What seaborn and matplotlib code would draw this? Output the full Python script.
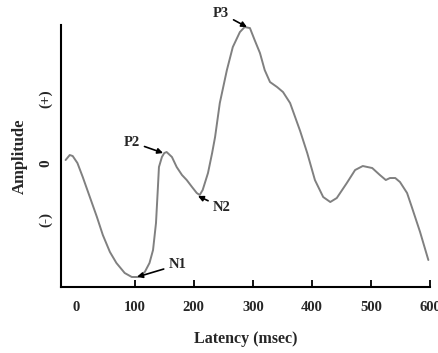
import numpy as np
import pandas as pd
import seaborn as sns
import matplotlib.pyplot as plt

# waveform (latency in msec, amplitude in arbitrary units)
latency = [-17, -10, -5, 3, 12, 24, 36, 46, 58, 69, 83, 95, 105, 117, 125, 131, 136,
           139, 141, 146, 150, 154, 163, 171, 180, 188, 197, 205, 210, 215, 224, 231,
           236, 244, 256, 266, 278, 286, 295, 303, 312, 320, 329, 341, 351, 363, 380,
           392, 405, 419, 431, 442, 459, 473, 486, 502, 515, 525, 532, 541, 549, 561,
           569, 583, 597]
amplitude = [0.3, 0.8, 0.7, 0.0, -1.4, -3.4, -5.4, -7.2, -8.9, -10.0, -11.0, -11.4,
             -11.4, -10.9, -10.0, -8.7, -6.0, -2.7, -0.4, 0.6, 1.0, 1.1, 0.6, -0.4,
             -1.2, -1.7, -2.4, -3.0, -3.2, -2.7, -1.0, 1.0, 2.6, 6.0, 9.3, 11.6, 13.1,
             13.6, 13.5, 12.3, 11.0, 9.3, 8.1, 7.6, 7.1, 6.0, 3.2, 1.0, -1.7, -3.4,
             -3.9, -3.5, -2.0, -0.7, -0.3, -0.5, -1.2, -1.7, -1.5, -1.5, -1.9, -3.0,
             -4.4, -6.9, -9.7]

x_ticks = [0, 100, 200, 300, 400, 500, 600]
y_ticks = [6.4, 0, -5.6]
y_tick_labels = ['(+)', '0', '(-)']

peaks = ['P3', 'P2', 'N2', 'N1']
peak_xy = [(290, 13.6), (148, 1.0), (207, -3.3), (104, -11.4)]
label_xy = [(246, 15.0), (95, 2.1), (247, -4.4), (172, -10.2)]

df = pd.DataFrame({'Latency': latency, 'Amplitude': amplitude})

sns.set_style('white')
plt.rcParams['font.family'] = ['Liberation Serif', 'DejaVu Serif']

fig = plt.figure(figsize=(4.38, 3.53), dpi=100)
ax = fig.add_axes([0.139, 0.187, 0.843, 0.742])
sns.lineplot(data=df, x='Latency', y='Amplitude', color='#808080', linewidth=1.4,
             ax=ax, sort=False, solid_joinstyle='round', solid_capstyle='round')

ax.set_xlim(-25, 600)
ax.set_ylim(-12.4, 13.8)
sns.despine(ax=ax)
for side in ['left', 'bottom']:
    ax.spines[side].set_linewidth(1.5)
    ax.spines[side].set_color('black')

# the reference crops the "600" label at the right edge; kept that way
ax.set_xticks(x_ticks)
ax.set_xticklabels([str(t) for t in x_ticks], fontweight='bold', fontsize=10.5)
ax.tick_params(axis='x', direction='in', length=5, width=1.3, color='black', pad=10,
               bottom=True)
ax.xaxis.get_major_ticks()[0].tick1line.set_visible(False)

ax.set_yticks(y_ticks)
ax.set_yticklabels(y_tick_labels, fontweight='bold', fontsize=11, rotation=90, va='center')
ax.tick_params(axis='y', length=0, pad=6)

ax.set_xlabel('Latency (msec)', fontweight='bold', fontsize=11.5, labelpad=12)
ax.set_ylabel('Amplitude', fontweight='bold', fontsize=12, labelpad=8)

for name, xy, txt in zip(peaks, peak_xy, label_xy):
    ax.annotate(name, xy=xy, xytext=txt, ha='center', va='center',
                fontsize=10.5, fontweight='bold', annotation_clip=False,
                arrowprops=dict(arrowstyle='-|>', color='black', lw=1.2,
                                mutation_scale=8, shrinkA=1, shrinkB=0))

fig.savefig('out.png', dpi=100)
